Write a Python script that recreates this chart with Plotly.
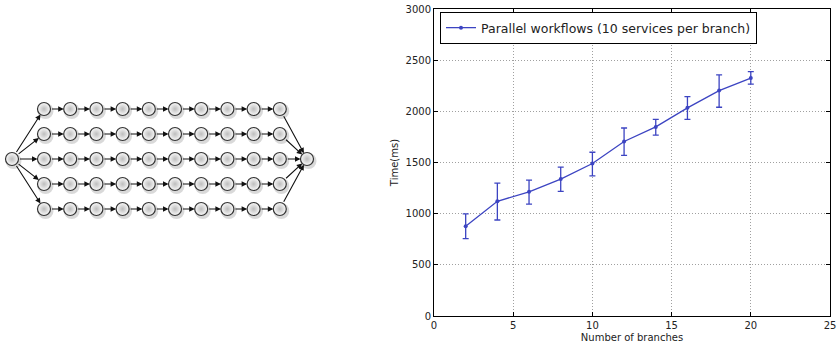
import plotly.graph_objects as go

# ---- data ----
branches = [2, 4, 6, 8, 10, 12, 14, 16, 18, 20]
time_ms = [877, 1121, 1213, 1338, 1490, 1705, 1848, 2034, 2203, 2325]
err_plus = [120, 178, 115, 116, 110, 132, 74, 110, 153, 63]
err_minus = [120, 183, 120, 120, 120, 136, 80, 112, 163, 60]
x_ticks = [0, 5, 10, 15, 20, 25]
y_ticks = [0, 500, 1000, 1500, 2000, 2500, 3000]
series_name = "Parallel workflows (10 services per branch)"

# diagram structure
n_branches = 5
n_services = 10

W, H = 839, 350
BLUE = "#3c44c2"

fig = go.Figure()

# ---------------- workflow diagram (pixel-like coordinate system) ----------------
col0, dcol = 44.0, 26.2
row_mid, drow = 159.0, 25.0
src = (12.0, row_mid)
snk = (307.0, row_mid)
rows = [row_mid + (i - (n_branches - 1) / 2) * drow for i in range(n_branches)]
cols = [col0 + j * dcol for j in range(n_services)]

node_x = [src[0], snk[0]]
node_y = [src[1], snk[1]]
for r in rows:
    for c in cols:
        node_x.append(c)
        node_y.append(r)

annotations = []
def arrow(x0, y0, x1, y1):
    annotations.append(dict(
        x=x1, y=y1, ax=x0, ay=y0, xref="x2", yref="y2", axref="x2", ayref="y2",
        showarrow=True, arrowhead=2, arrowsize=1.0, arrowwidth=1.1,
        arrowcolor="#111111", standoff=6.5, startstandoff=6.5, text=""))

for r in rows:
    arrow(src[0], src[1], cols[0], r)
    for j in range(n_services - 1):
        arrow(cols[j], r, cols[j + 1], r)
    arrow(cols[-1], r, snk[0], snk[1])

# shadow
fig.add_trace(go.Scatter(
    x=[v + 1.5 for v in node_x], y=[v + 2 for v in node_y], mode="markers",
    xaxis="x2", yaxis="y2", showlegend=False, hoverinfo="skip",
    marker=dict(size=16, color="rgba(0,0,0,0.15)", line=dict(width=0))))
# nodes
fig.add_trace(go.Scatter(
    x=node_x, y=node_y, mode="markers", xaxis="x2", yaxis="y2",
    showlegend=False, hoverinfo="skip",
    marker=dict(size=13, color="#fafafa",
                gradient=dict(type="radial", color="#bdbdbd"),
                line=dict(width=1.2, color="#333333"))))

# ---------------- line chart ----------------
fig.add_trace(go.Scatter(
    x=branches, y=time_ms, mode="lines+markers", name=series_name,
    line=dict(color=BLUE, width=1.3),
    marker=dict(size=4, color=BLUE),
    error_y=dict(type="data", symmetric=False, array=err_plus,
                 arrayminus=err_minus, color=BLUE, thickness=1.3, width=3)))

px_l, px_r, px_t, px_b = 434, 830, 9, 316
axis_common = dict(
    showline=True, linecolor="black", linewidth=1, mirror="ticks",
    ticks="inside", ticklen=4, tickcolor="black",
    showgrid=True, gridcolor="#a0a0a0", griddash="1px,2px", gridwidth=1,
    zeroline=False, automargin=False,
    tickfont=dict(family="DejaVu Sans", size=10, color="#222222"))

fig.update_layout(
    width=W, height=H, margin=dict(l=0, r=0, t=0, b=0),
    paper_bgcolor="white", plot_bgcolor="white",
    font=dict(family="DejaVu Sans", size=10, color="#222222"),
    xaxis=dict(domain=[px_l / W, px_r / W], range=[0, 25], tickvals=x_ticks,
               title=dict(text="Number of branches", standoff=3,
                          font=dict(size=10)), **axis_common),
    yaxis=dict(domain=[1 - px_b / H, 1 - px_t / H], range=[0, 3000],
               tickvals=y_ticks,
               title=dict(text="Time(ms)", standoff=5, font=dict(size=10)),
               **axis_common),
    xaxis2=dict(domain=[0, 330 / W], range=[0, 330], visible=False,
                fixedrange=True),
    yaxis2=dict(domain=[0, 1], range=[H, 0], visible=False, fixedrange=True,
                anchor="x2"),
    legend=dict(x=440 / W, y=1 - 12 / H, xanchor="left", yanchor="top",
                bordercolor="black", borderwidth=1, bgcolor="white",
                font=dict(family="DejaVu Sans", size=12.5, color="#222222"),
                itemwidth=30),
    showlegend=True,
    annotations=annotations,
)

fig.write_html("out.html", config={"displayModeBar": False},
               post_script="document.body.style.margin='0';"
                           "document.body.style.overflow='hidden';")
